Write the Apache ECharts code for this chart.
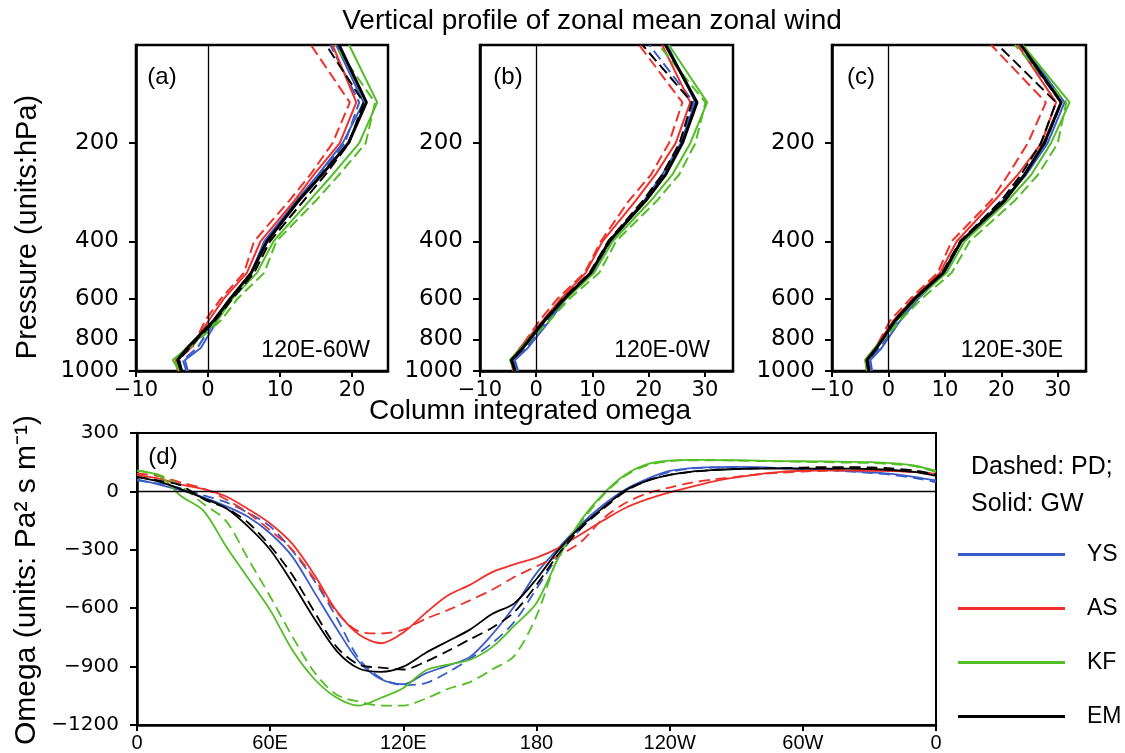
<!DOCTYPE html>
<html>
<head>
<meta charset="utf-8">
<script src="https://cdn.jsdelivr.net/npm/echarts@6/dist/echarts.min.js"></script>
<style>html,body{margin:0;padding:0;background:#fff}#chart{width:1125px;height:753px}</style>
</head>
<body>
<div id="chart"></div>
<script>
// ---------- DATA ----------
const pressureLevels = [1000, 925, 850, 700, 600, 500, 400, 300, 250, 200, 150, 100];
const pressureTicks = [200, 400, 600, 800, 1000];
const windTicksA = [-10, 0, 10, 20];
const windTicksBC = [-10, 0, 10, 20, 30];

// Panel (a) 120E-60W
const a_YS_GW = [-2.8, -3.2, -1.0, 1.3, 3.1, 6.0, 7.8, 12.3, 15.3, 18.7, 21.6, 17.8];
const a_YS_PD = [-3.0, -3.5, -1.5, 1.0, 3.0, 6.2, 8.0, 12.5, 15.5, 19.0, 21.0, 17.0];
const a_AS_GW = [-4.2, -4.5, -2.4, 0.1, 2.2, 5.4, 7.3, 12.0, 14.7, 18.3, 20.6, 17.3];
const a_AS_PD = [-4.0, -4.4, -2.2, -0.4, 1.8, 5.0, 6.4, 11.3, 14.2, 17.3, 19.7, 14.3];
const a_KF_GW = [-4.0, -4.9, -2.9, 1.3, 3.4, 6.8, 9.1, 14.1, 17.3, 21.0, 23.5, 19.6];
const a_KF_PD = [-3.7, -4.7, -2.6, 1.8, 4.1, 7.8, 9.5, 15.0, 18.2, 21.9, 23.2, 17.6];
const a_EM_GW = [-3.7, -4.2, -2.9, 0.8, 3.1, 6.0, 8.2, 12.6, 15.8, 19.5, 22.0, 18.2];
const a_EM_PD = [-3.6, -4.0, -2.6, 1.0, 3.4, 6.4, 8.6, 13.3, 16.3, 19.6, 21.6, 16.4];

// Panel (b) 120E-0W
const b_YS_GW = [-3.2, -3.8, -1.5, 2.4, 5.3, 10.0, 13.0, 19.2, 22.4, 25.7, 28.3, 23.3];
const b_YS_PD = [-3.4, -4.0, -1.8, 2.0, 5.2, 10.2, 13.3, 19.3, 22.6, 25.8, 28.0, 20.1];
const b_AS_GW = [-4.1, -4.4, -2.9, 1.2, 4.4, 8.8, 11.8, 17.7, 21.2, 24.8, 27.4, 22.4];
const b_AS_PD = [-4.0, -4.5, -2.8, 0.6, 3.8, 8.6, 11.5, 16.5, 20.4, 23.6, 26.0, 18.3];
const b_KF_GW = [-3.8, -4.7, -2.7, 1.5, 5.3, 10.3, 13.6, 20.4, 24.2, 27.4, 30.4, 23.6];
const b_KF_PD = [-3.6, -4.5, -2.4, 2.4, 5.9, 11.2, 14.2, 21.5, 25.4, 28.3, 30.1, 21.8];
const b_EM_GW = [-3.8, -4.4, -2.4, 1.5, 5.0, 9.7, 13.0, 19.5, 23.0, 26.0, 28.6, 23.0];
const b_EM_PD = [-3.7, -4.3, -2.3, 1.3, 4.8, 9.5, 12.8, 19.0, 22.4, 25.5, 27.7, 18.9];

// Panel (c) 120E-30E
const c_YS_GW = [-2.9, -3.2, -1.2, 2.1, 5.3, 10.0, 12.9, 20.3, 24.4, 28.2, 31.2, 23.8];
const c_YS_PD = [-3.1, -3.5, -1.5, 1.8, 5.0, 9.8, 12.8, 20.0, 24.0, 27.8, 30.6, 22.9];
const c_AS_GW = [-3.8, -4.1, -2.4, 0.9, 4.4, 9.1, 12.1, 18.8, 22.9, 27.1, 29.7, 22.9];
const c_AS_PD = [-3.7, -4.0, -2.3, 0.3, 3.9, 8.7, 11.2, 18.2, 21.2, 24.7, 27.9, 18.2];
const c_KF_GW = [-3.8, -4.1, -2.4, 1.5, 5.0, 10.3, 13.5, 21.2, 25.3, 28.8, 32.1, 23.8];
const c_KF_PD = [-3.6, -4.0, -2.2, 2.1, 5.9, 11.2, 14.4, 22.4, 26.5, 30.0, 31.5, 22.4];
const c_EM_GW = [-3.5, -3.8, -2.1, 1.2, 4.7, 9.7, 12.9, 20.6, 24.1, 27.6, 30.6, 23.5];
const c_EM_PD = [-3.4, -3.8, -2.0, 1.0, 4.5, 9.5, 12.7, 20.0, 23.5, 27.0, 29.7, 19.4];

// Panel (d) column integrated omega, longitude 0..360 (east)
const longitudes = [0,10,20,30,40,50,60,70,80,90,100,110,120,130,140,150,160,170,180,190,200,210,220,230,240,250,260,270,280,290,300,310,320,330,340,350,360];
const lonTicks = [0, 60, 120, 180, 240, 300, 360];
const lonTickLabels = ['0', '60E', '120E', '180', '120W', '60W', '0'];
const omega_YS_GW = [62,35,5,-30,-75,-130,-215,-335,-520,-705,-875,-965,-990,-935,-895,-850,-735,-590,-420,-290,-170,-70,10,65,105,120,125,126,124,120,117,112,105,98,90,75,56];
const omega_YS_PD = [55,40,15,-20,-55,-110,-180,-305,-460,-650,-860,-960,-995,-985,-930,-860,-780,-670,-500,-330,-190,-80,5,60,100,118,122,123,122,120,115,110,103,95,85,70,47];
const omega_AS_GW = [82,66,35,12,-25,-90,-165,-270,-430,-615,-735,-780,-725,-625,-535,-480,-415,-375,-340,-290,-220,-150,-85,-40,-5,25,52,72,88,100,106,108,108,106,104,100,90];
const omega_AS_PD = [92,78,45,15,-40,-110,-200,-300,-450,-620,-720,-730,-710,-655,-610,-560,-505,-440,-385,-330,-260,-140,-60,-10,20,45,62,75,88,96,102,106,108,108,106,100,90];
const omega_KF_GW = [105,80,-25,-100,-280,-445,-610,-815,-965,-1060,-1100,-1060,-1010,-920,-890,-865,-800,-690,-573,-340,-150,-14,85,140,158,162,161,160,158,156,155,154,152,150,145,133,105];
const omega_KF_PD = [108,85,25,-65,-150,-345,-540,-745,-930,-1045,-1080,-1100,-1100,-1065,-1015,-980,-915,-845,-640,-330,-160,-20,80,135,155,160,160,158,156,154,152,150,148,146,140,130,100];
const omega_EM_GW = [73,50,10,-35,-85,-180,-300,-470,-655,-820,-910,-927,-900,-830,-770,-710,-630,-575,-450,-300,-180,-84,5,55,85,102,110,115,117,117,117,117,117,115,110,100,80];
const omega_EM_PD = [75,55,30,-40,-85,-160,-280,-430,-620,-800,-890,-905,-915,-875,-820,-760,-700,-620,-480,-320,-190,-90,0,55,85,100,110,115,118,120,122,125,125,123,118,108,88];

const legendNames = ['YS', 'AS', 'KF', 'EM'];
const colors = { YS: '#3a5cc8', AS: '#f0302a', KF: '#52bd24', EM: '#000000' };

// ---------- CHART ----------
const chart = echarts.init(document.getElementById('chart'), null, { renderer: 'canvas' });
const SANS = 'Liberation Sans, Arial, Helvetica, sans-serif';
const TICKF = 'DejaVu Sans, Verdana, sans-serif';
const minusFmt = v => (v < 0 ? '\u2212' + Math.abs(v) : String(v));
const frameLine = { show: true, onZero: false, lineStyle: { color: '#000', width: 2.5 } };

const gridsTop = [
  { left: 136, top: 45, width: 252, height: 326 },
  { left: 480, top: 45, width: 253, height: 326 },
  { left: 832, top: 45, width: 254, height: 326 }
];
const gridD = { left: 137, top: 433, width: 799, height: 292 };
const gridStyle = { show: true, borderColor: '#000', borderWidth: 2.5, backgroundColor: 'transparent' };

const grids = gridsTop.map(g => Object.assign({}, g, gridStyle));
grids.push(Object.assign({}, gridD, gridStyle, { borderWidth: 2 }));

const xMax = [25, 35, 35];
const xTicks = [windTicksA, windTicksBC, windTicksBC];
const xAxes = [0, 1, 2].map(i => ({
  type: 'value', gridIndex: i, min: -10, max: xMax[i], position: 'bottom',
  axisLine: frameLine, splitLine: { show: false },
  axisTick: { show: true, length: 6, customValues: xTicks[i], lineStyle: { color: '#000', width: 2 } },
  axisLabel: { customValues: xTicks[i], formatter: minusFmt, color: '#000', fontFamily: TICKF, fontSize: 21, margin: 9 }
}));
xAxes.push({
  type: 'value', gridIndex: 3, min: 0, max: 360, position: 'bottom',
  axisLine: frameLine, splitLine: { show: false },
  axisTick: { show: true, length: 6, customValues: lonTicks, lineStyle: { color: '#000', width: 2 } },
  axisLabel: { customValues: lonTicks, formatter: v => lonTickLabels[lonTicks.indexOf(v)] ?? '', color: '#000', fontFamily: SANS, fontSize: 20, margin: 8 }
});

const yAxes = [0, 1, 2].map(i => ({
  type: 'log', logBase: 10, gridIndex: i, min: 100, max: 1000, inverse: true, position: 'left',
  axisLine: frameLine, splitLine: { show: false }, minorTick: { show: false },
  axisTick: { show: true, length: 7, customValues: pressureTicks, lineStyle: { color: '#000', width: 2 } },
  axisLabel: { customValues: pressureTicks, formatter: v => String(Math.round(v)), color: '#000', fontFamily: TICKF, fontSize: 23, margin: 17 }
}));
yAxes.push({
  type: 'value', gridIndex: 3, min: -1200, max: 300, interval: 300, position: 'left',
  axisLine: frameLine, splitLine: { show: false },
  axisTick: { show: true, length: 7, lineStyle: { color: '#000', width: 2 } },
  axisLabel: { formatter: minusFmt, color: '#000', fontFamily: TICKF, fontSize: 20, margin: 18 }
});

const zeroLine = (axisKey) => ({
  silent: true, symbol: ['none', 'none'], animation: false,
  label: { show: false }, lineStyle: { color: '#000', width: 1.3, type: 'solid' },
  data: [{ [axisKey]: 0 }]
});

const panelData = [
  { YS: [a_YS_GW, a_YS_PD], AS: [a_AS_GW, a_AS_PD], KF: [a_KF_GW, a_KF_PD], EM: [a_EM_GW, a_EM_PD] },
  { YS: [b_YS_GW, b_YS_PD], AS: [b_AS_GW, b_AS_PD], KF: [b_KF_GW, b_KF_PD], EM: [b_EM_GW, b_EM_PD] },
  { YS: [c_YS_GW, c_YS_PD], AS: [c_AS_GW, c_AS_PD], KF: [c_KF_GW, c_KF_PD], EM: [c_EM_GW, c_EM_PD] }
];
const omegaData = { YS: [omega_YS_GW, omega_YS_PD], AS: [omega_AS_GW, omega_AS_PD], KF: [omega_KF_GW, omega_KF_PD], EM: [omega_EM_GW, omega_EM_PD] };
const drawOrder = ['YS', 'AS', 'KF', 'EM'];

const series = [];
panelData.forEach((pd, gi) => {
  drawOrder.forEach(name => {
    [0, 1].forEach(k => {
      const s = {
        type: 'line', name, xAxisIndex: gi, yAxisIndex: gi, symbol: 'none', silent: true, animation: false,
        data: pd[name][k].map((u, i) => [u, pressureLevels[i]]),
        lineStyle: { color: colors[name], width: name === 'EM' && k === 0 ? 3 : 2, type: k === 1 ? [11, 5] : 'solid' },
        itemStyle: { color: colors[name] }, z: name === 'EM' ? 4 : 3
      };
      if (name === 'YS' && k === 0) s.markLine = zeroLine('xAxis');
      series.push(s);
    });
  });
});
drawOrder.forEach(name => {
  [0, 1].forEach(k => {
    const s = {
      type: 'line', name, xAxisIndex: 3, yAxisIndex: 3, symbol: 'none', silent: true, animation: false, smooth: 0.3,
      data: omegaData[name][k].map((v, i) => [longitudes[i], v]),
      lineStyle: { color: colors[name], width: 1.8, type: k === 1 ? [11, 6] : 'solid' },
      itemStyle: { color: colors[name] }, z: 3
    };
    if (name === 'YS' && k === 0) s.markLine = zeroLine('yAxis');
    series.push(s);
  });
});

const txt = (text, x, y, size, align, extra) => Object.assign({
  type: 'text', x, y, silent: true,
  style: { text, fill: '#000', fontFamily: SANS, fontSize: size, align: align || 'center', verticalAlign: 'middle',
           textAlign: align || 'center', textVerticalAlign: 'middle' }
}, extra || {});

const option = {
  backgroundColor: '#ffffff',
  animation: false,
  grid: grids,
  xAxis: xAxes,
  yAxis: yAxes,
  series,
  legend: {
    data: legendNames, orient: 'vertical', left: 958, top: 543, padding: 0,
    itemWidth: 107, itemHeight: 3, itemGap: 31, icon: 'rect', selectedMode: false,
    textStyle: { color: '#000', fontFamily: SANS, fontSize: 23, lineHeight: 22, padding: [0, 0, 0, 17] }
  },
  graphic: [
    txt('Vertical profile of zonal mean zonal wind', 592, 21, 28),
    txt('Column integrated omega', 530, 411, 28),
    txt('(a)', 162, 77, 24), txt('(b)', 508, 77, 24), txt('(c)', 861, 77, 24), txt('(d)', 163, 457, 24),
    txt('120E-60W', 370, 351, 23, 'right'),
    txt('120E-0W', 710, 351, 23, 'right'),
    txt('120E-30E', 1063, 351, 23, 'right'),
    txt('Pressure (units:hPa)', 28, 227, 29, 'center', { rotation: Math.PI / 2 }),
    txt('Omega (units: Pa\u00B2 s m\u207B\u00B9)', 27, 580, 30, 'center', { rotation: Math.PI / 2 }),
    txt('Dashed: PD;', 971, 467, 25, 'left'),
    txt('Solid: GW', 971, 504, 25, 'left')
  ]
};
chart.setOption(option);
</script>
</body>
</html>
